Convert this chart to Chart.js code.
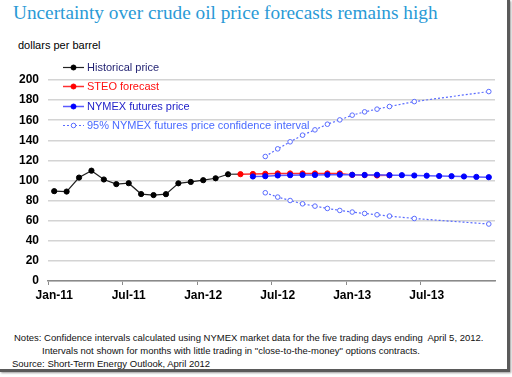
<!DOCTYPE html>
<html><head><meta charset="utf-8">
<script src="https://cdn.jsdelivr.net/npm/chart.js@4"></script>
<style>
html,body{margin:0;padding:0;background:#fff;}
body{width:512px;height:377px;position:relative;overflow:hidden;font-family:"Liberation Sans",Arial,sans-serif;}
#frame{position:absolute;left:0;top:0;width:507px;height:369px;border-right:3px solid #5a5a5a;border-bottom:3px solid #5a5a5a;box-shadow:1px 1px 2px #999;}
#title{position:absolute;left:13px;top:3px;font-family:"Liberation Serif","Times New Roman",serif;font-size:19.3px;color:#2a9ad6;white-space:nowrap;line-height:1;}
#unit{position:absolute;left:18px;top:39px;font-size:11px;line-height:13px;color:#000;}
canvas{position:absolute;left:0;top:0;}
.note{position:absolute;font-size:9.5px;line-height:11px;color:#111;white-space:nowrap;}
</style></head>
<body>
<div id="frame"></div>
<div id="title">Uncertainty over crude oil price forecasts remains high</div>
<div id="unit">dollars per barrel</div>
<canvas id="c" width="512" height="320"></canvas>
<div class="note" style="left:14px;top:332px;">Notes: Confidence intervals calculated using NYMEX market data for the five trading days ending&nbsp; April 5, 2012.</div>
<div class="note" style="left:42px;top:345px;">Intervals not shown for months with little trading in "close-to-the-money" options contracts.</div>
<div class="note" style="left:12px;top:358px;">Source: Short-Term Energy Outlook, April 2012</div>
<script>
const months = ['Jan-11','Feb-11','Mar-11','Apr-11','May-11','Jun-11','Jul-11','Aug-11','Sep-11','Oct-11','Nov-11','Dec-11',
  'Jan-12','Feb-12','Mar-12','Apr-12','May-12','Jun-12','Jul-12','Aug-12','Sep-12','Oct-12','Nov-12','Dec-12',
  'Jan-13','Feb-13','Mar-13','Apr-13','May-13','Jun-13','Jul-13','Aug-13','Sep-13','Oct-13','Nov-13','Dec-13'];
const yTicks = [0,20,40,60,80,100,120,140,160,180,200];
const N = null;
const historical = [89.4,89.0,102.9,109.8,101.0,96.4,97.3,86.5,85.5,86.4,97.2,98.6,
  100.3,102.2,106.2,N,N,N,N,N,N,N,N,N, N,N,N,N,N,N,N,N,N,N,N,N];
// first value (Mar-12) is the join to the last historical month
const steo = [N,N,N,N,N,N,N,N,N,N,N,N,
  N,N,106.2,106.3,106.5,106.7,107.0,107.0,107.0,107.0,107.0,107.0,
  105.6,105.4,105.0,105.2,N,N,N,N,N,N,N,N];
const nymex = [N,N,N,N,N,N,N,N,N,N,N,N,
  N,N,N,N,104.0,104.3,105.0,105.3,105.5,105.5,105.7,105.7,
  105.7,105.5,105.7,105.3,105.3,105.0,104.8,104.5,104.3,104.0,103.6,103.3];
const ciUpper = [N,N,N,N,N,N,N,N,N,N,N,N,
  N,N,N,N,N,123.9,131.5,138.5,145.1,150.4,156.0,160.3,
  165.0,168.3,171.0,173.6,N,178.5,N,N,N,N,N,188.5];
const ciLower = [N,N,N,N,N,N,N,N,N,N,N,N,
  N,N,N,N,N,87.8,83.5,80.1,76.8,74.5,72.2,70.2,
  68.6,67.2,65.9,64.6,N,62.2,N,N,N,N,N,56.7];
const legendLabels = ['Historical price','STEO forecast','NYMEX futures price','95% NYMEX futures price confidence interval'];

const insideLegend = {
  id: 'insideLegend',
  afterDraw(chart) {
    const ctx = chart.ctx;
    const ds = chart.data.datasets;
    const rows = [67, 86, 106, 125];
    ctx.save();
    ctx.font = '11px "Liberation Sans", Arial, sans-serif';
    ctx.textBaseline = 'middle';
    ds.forEach(d => {
      if (d.legendIndex === undefined) return;
      const y = rows[d.legendIndex];
      ctx.strokeStyle = d.borderColor;
      ctx.lineWidth = d.legendLineWidth;
      ctx.setLineDash(d.borderDash || []);
      ctx.beginPath(); ctx.moveTo(63, y + 0.5); ctx.lineTo(84, y + 0.5); ctx.stroke();
      ctx.setLineDash([]);
      ctx.beginPath(); ctx.arc(73.5, y + 0.5, d.legendRadius, 0, Math.PI * 2);
      ctx.fillStyle = d.pointBackgroundColor; ctx.fill();
      ctx.lineWidth = 1; ctx.strokeStyle = d.pointBorderColor; ctx.stroke();
      ctx.fillStyle = d.legendTextColor;
      ctx.fillText(legendLabels[d.legendIndex], 87, y + 1);
    });
    ctx.restore();
  }
};

new Chart(document.getElementById('c'), {
  type: 'line',
  data: {
    labels: months,
    datasets: [
      { label: legendLabels[2], data: nymex, order: 1, borderColor: '#5a5aff', borderWidth: 1.5,
        pointRadius: 2.6, pointBackgroundColor: '#0000ff', pointBorderColor: '#0000ff', pointBorderWidth: 1,
        legendIndex: 2, legendLineWidth: 1.5, legendRadius: 2.5, legendTextColor: '#1c1cc8' },
      { label: legendLabels[1], data: steo, order: 2, borderColor: '#ff3030', borderWidth: 1.5,
        segment: { borderColor: c => c.p0DataIndex === 14 ? '#222' : '#ff3030', borderWidth: c => c.p0DataIndex === 14 ? 1.2 : 1.5 },
        pointRadius: c => c.dataIndex === 14 ? 0 : 2.6, pointBackgroundColor: '#ff0000', pointBorderColor: '#ff0000', pointBorderWidth: 1,
        legendIndex: 1, legendLineWidth: 1.5, legendRadius: 2.5, legendTextColor: '#ff1010' },
      { label: legendLabels[0], data: historical, order: 3, borderColor: '#222', borderWidth: 1.2,
        pointRadius: 2.6, pointBackgroundColor: '#000', pointBorderColor: '#000', pointBorderWidth: 1,
        legendIndex: 0, legendLineWidth: 1.2, legendRadius: 2.5, legendTextColor: '#1f1f70' },
      { label: legendLabels[3], data: ciUpper, order: 4, borderColor: '#5a6cff', borderWidth: 1.2, borderDash: [2, 2], spanGaps: true,
        pointRadius: 2.3, pointBackgroundColor: '#fff', pointBorderColor: '#5a6cff', pointBorderWidth: 1,
        legendIndex: 3, legendLineWidth: 1.2, legendRadius: 2.3, legendTextColor: '#4a6aff' },
      { label: 'lower', data: ciLower, order: 4, borderColor: '#5a6cff', borderWidth: 1.2, borderDash: [2, 2], spanGaps: true,
        pointRadius: 2.3, pointBackgroundColor: '#fff', pointBorderColor: '#5a6cff', pointBorderWidth: 1 }
    ]
  },
  options: {
    responsive: false,
    animation: false,
    devicePixelRatio: 1,
    layout: { padding: { top: 80, right: 17, left: 0, bottom: 0 } },
    plugins: { legend: { display: false }, tooltip: { enabled: false } },
    elements: { line: { tension: 0 } },
    scales: {
      x: {
        type: 'category',
        offset: true,
        afterFit: s => { s.height = 39; },
        grid: { display: true, drawOnChartArea: false, offset: true, tickLength: 4,
          color: c => (c.index % 6 === 0 ? '#8a8a8a' : 'rgba(0,0,0,0)'), lineWidth: 1 },
        border: { display: true, color: '#8a8a8a', width: 1.5 },
        ticks: { autoSkip: false, maxRotation: 0, minRotation: 0, padding: 3, color: '#000',
          font: { family: '"Liberation Sans", Arial, sans-serif', size: 12, weight: 'bold' },
          callback: function (v, i) { return i % 6 === 0 ? months[i] : ''; } }
      },
      y: {
        min: yTicks[0], max: yTicks[yTicks.length - 1],
        afterFit: s => { s.width = 48; },
        afterBuildTicks: s => { s.ticks = yTicks.map(v => ({ value: v })); },
        grid: { drawTicks: false, color: '#d4d4d4', lineWidth: 1.5 },
        border: { display: false },
        ticks: { padding: 9, color: '#000',
          font: { family: '"Liberation Sans", Arial, sans-serif', size: 12, weight: 'bold' } }
      }
    }
  },
  plugins: [insideLegend]
});
</script>
</body></html>
